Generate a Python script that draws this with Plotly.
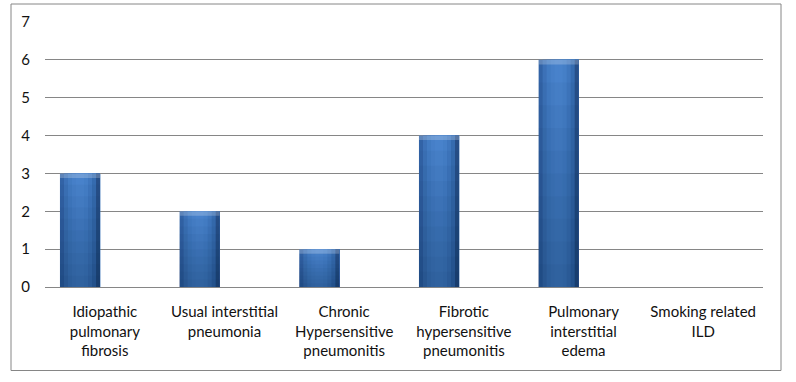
import plotly.graph_objects as go

categories = [
    "Idiopathic<br>pulmonary<br>fibrosis",
    "Usual interstitial<br>pneumonia",
    "Chronic<br>Hypersensitive<br>pneumonitis",
    "Fibrotic<br>hypersensitive<br>pneumonitis",
    "Pulmonary<br>interstitial<br>edema",
    "Smoking related<br>ILD",
]
values = [3, 2, 1, 4, 6, 0]
y_ticks = [0, 1, 2, 3, 4, 5, 6, 7]

W, H = 796, 382
L, R, T, B = 45, 33, 22, 95

fig = go.Figure()

# horizontal gradient made of overlapping strips (later ones cover earlier)
strip_colors = ["#3263A6", "#3C71B7", "#427BC2", "#467FC8", "#4882CB",
                "#4882CB", "#457FC7", "#3F77BE", "#356BAF", "#274F88"]
bar_w = 0.335
bar_off = -0.375
n = len(strip_colors)
sw = bar_w / n
for i, c in enumerate(strip_colors):
    fig.add_trace(go.Bar(
        x=categories, y=values, width=bar_w - i * sw, offset=bar_off + i * sw,
        marker=dict(color=c, line=dict(width=0)), hoverinfo="skip",
        showlegend=False))

# vertical darkening toward base
for k in [0.1, 0.2, 0.3, 0.4, 0.5, 0.6, 0.7, 0.8, 0.9]:
    fig.add_trace(go.Bar(
        x=categories, y=[v * k for v in values], width=bar_w, offset=bar_off,
        marker=dict(color="rgba(10,30,70,0.035)", line=dict(width=0)),
        hoverinfo="skip", showlegend=False))

# top bevel highlight
bev = 0.12
fig.add_trace(go.Bar(
    x=categories, y=[bev if v > 0 else 0 for v in values],
    base=[v - bev if v > 0 else 0 for v in values],
    width=bar_w, offset=bar_off,
    marker=dict(color="rgba(255,255,255,0.22)", line=dict(width=0)),
    hoverinfo="skip", showlegend=False))

pw = W - L - R
ph = H - T - B
fig.add_shape(type="rect", xref="paper", yref="paper",
              x0=(11 - L) / pw, x1=(781 - L) / pw,
              y0=(H - B - 370.5) / ph, y1=(H - B - 4) / ph,
              line=dict(color="#868686", width=1), layer="below")

fig.update_layout(
    width=W, height=H,
    margin=dict(l=L, r=R, t=T, b=B),
    paper_bgcolor="white", plot_bgcolor="white",
    barmode="overlay",
    font=dict(family="Lato, Carlito, sans-serif", size=15, color="#111111"),
    xaxis=dict(showgrid=False, showline=False, zeroline=False,
               ticks="", tickangle=0, ticklabelstandoff=14,
               tickfont=dict(size=15)),
    yaxis=dict(range=[0, 7], tickvals=y_ticks, showgrid=True,
               gridcolor="#868686", gridwidth=1, zeroline=True,
               zerolinecolor="#868686", zerolinewidth=1, showline=False,
               ticks="", ticklabelstandoff=14, tickfont=dict(size=15)),
)

fig.write_html("out.html", config={"displayModeBar": False},
               post_script="document.body.style.margin='0';document.body.style.overflow='hidden';")
